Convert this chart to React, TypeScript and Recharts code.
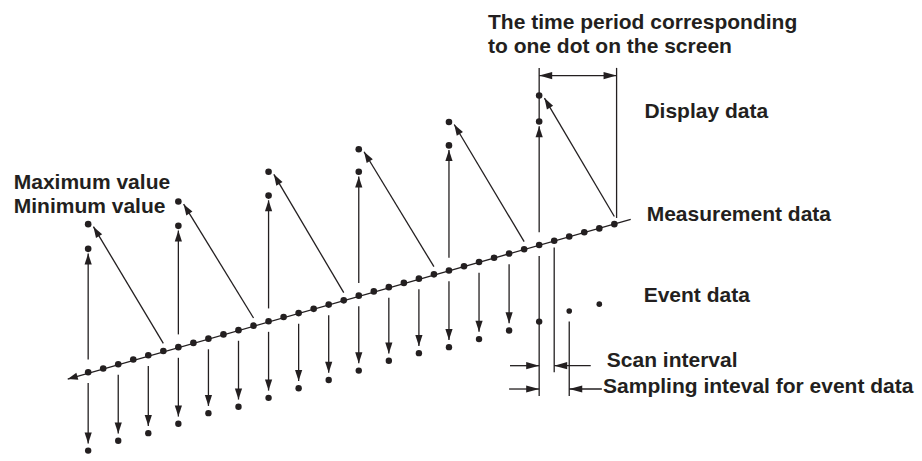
import React from "react";
import { ScatterChart, Scatter, XAxis, YAxis, ReferenceLine } from "recharts";

// x = sample number, y = signal level (same units for every panel)
const MEASUREMENT = [
  -0.1, 0.8, 1.8, 2.9, 3.9, 4.9, 5.8, 6.8, 7.8, 8.8, 9.8, 10.85, 11.9, 12.9,
  13.8, 14.8, 15.8, 16.8, 17.9, 18.9, 19.9, 20.9, 21.9, 22.9, 23.8, 24.8,
  25.8, 26.8, 27.8, 28.8, 29.8, 30.8, 31.8, 32.8, 33.7, 34.7,
];

// one display dot = 6 scans; min is the first sample, max the last one
const GROUP_START = [0, 6, 12, 18, 24, 30];
const DISPLAY_MIN = [28.9, 34.3, 41.4, 47.0, 53.2, 58.8];
const DISPLAY_MAX = [34.7, 40.0, 47.0, 52.3, 58.7, 64.9];

// event data is sampled every second scan
const EVENT_INDEX = [0, 2, 4, 6, 8, 10, 12, 14, 16, 18, 20, 22, 24, 26, 28, 30, 32, 34];
const EVENT = [
  -18.5, -16.2, -14.4, -12.2, -9.7, -8.2, -6.1, -3.85, -1.9, 0.3, 2.6, 4.4,
  5.8, 7.7, 9.7, 11.8, 14.3, 15.9,
];

const LABELS = [
  { x: 26.6, y: 80.5, text: "The time period corresponding" },
  { x: 26.6, y: 74.8, text: "to one dot on the screen" },
  { x: 37.0, y: 59.6, text: "Display data" },
  { x: -4.95, y: 42.9, text: "Maximum value" },
  { x: -4.95, y: 37.25, text: "Minimum value" },
  { x: 37.15, y: 35.4, text: "Measurement data" },
  { x: 36.95, y: 16.4, text: "Event data" },
  { x: 34.5, y: 1.1, text: "Scan interval" },
  { x: 34.25, y: -4.95, text: "Sampling inteval for event data" },
];

const INK = "#231f20";
const TOP = 71.4;
const DIM_BOTTOM = -5.65;

type Seg = { a: [number, number]; b: [number, number]; s?: boolean; e?: boolean; L?: number };

const segments: Seg[] = [];
// measurement time axis
segments.push({ a: [36.09, 35.84], b: [-1.36, -1.68], e: true, L: 10 });
GROUP_START.forEach((g, i) => {
  segments.push({ a: [g, MEASUREMENT[g] + 3], b: [g, DISPLAY_MIN[i] - 1.1], e: true });
  segments.push({
    a: [g + 5, MEASUREMENT[g + 5] + 1.8],
    b: [g + 0.35, DISPLAY_MAX[i] - 0.6],
    e: true,
  });
});
segments.push({ a: [30, DISPLAY_MIN[5]], b: [30, TOP] });
EVENT_INDEX.forEach((k, j) => {
  if (k < 30) segments.push({ a: [k, MEASUREMENT[k] - 2.5], b: [k, EVENT[j] + 1.7], e: true });
});
segments.push({ a: [30, MEASUREMENT[30] - 2.6], b: [30, DIM_BOTTOM] });
segments.push({ a: [31, MEASUREMENT[31] - 1.6], b: [31, -0.1] });
segments.push({ a: [32, EVENT[16] - 2.5], b: [32, DIM_BOTTOM] });
segments.push({ a: [35.15, TOP], b: [35.15, 36.15] });
segments.push({ a: [30, 69.6], b: [35.15, 69.6], s: true, e: true, L: 13 });
segments.push({ a: [28.06, 1.45], b: [30, 1.45], e: true, L: 13 });
segments.push({ a: [33.43, 1.45], b: [31, 1.45], e: true, L: 13 });
segments.push({ a: [28.0, -4.03], b: [30, -4.03], e: true, L: 13 });
segments.push({ a: [34.17, -4.03], b: [32, -4.03], e: true, L: 13 });

function head(tx: number, ty: number, fx: number, fy: number, L: number) {
  const dx = tx - fx;
  const dy = ty - fy;
  const len = Math.hypot(dx, dy) || 1;
  const ux = dx / len;
  const uy = dy / len;
  const W = 3.6;
  const bx = tx - ux * L;
  const by = ty - uy * L;
  return `${tx},${ty} ${bx - uy * W},${by + ux * W} ${bx + uy * W},${by - ux * W}`;
}

function arrowShape(seg: Seg) {
  const L = seg.L ?? 11;
  return (p: any) => {
    const { x1, y1, x2, y2 } = p;
    return (
      <g>
        <line x1={x1} y1={y1} x2={x2} y2={y2} stroke={INK} strokeWidth={1.3} />
        {seg.e && <polygon points={head(x2, y2, x1, y1, L)} fill={INK} />}
        {seg.s && <polygon points={head(x1, y1, x2, y2, L)} fill={INK} />}
      </g>
    );
  };
}

const measurementData = MEASUREMENT.map((y, x) => ({ x, y }));
const displayData = GROUP_START.flatMap((g, i) => [
  { x: g, y: DISPLAY_MIN[i] },
  { x: g, y: DISPLAY_MAX[i] },
]);
const eventData = EVENT_INDEX.map((x, j) => ({ x, y: EVENT[j], r: x > 30 ? 2.8 : 3.2 }));

const dot = (r: number) => (p: any) => <circle cx={p.cx} cy={p.cy} r={p.payload?.r ?? r} fill={INK} />;

const label = (p: any) => (
  <text
    x={p.cx}
    y={p.cy}
    fill={INK}
    fontSize={21}
    fontWeight={700}
    fontFamily='"Liberation Sans", Arial, Helvetica, sans-serif'
  >
    {p.payload.text}
  </text>
);

export default function App() {
  return (
    <div style={{ position: "absolute", left: 0, top: 0, width: 922, height: 461, background: "#fff" }}>
      <ScatterChart width={922} height={461} margin={{ top: 10, right: 7, bottom: 4, left: 13 }}>
        <XAxis type="number" dataKey="x" domain={[-5, 55]} hide />
        <YAxis type="number" dataKey="y" domain={[-20, 85]} hide />
        {segments.map((seg, i) => (
          <ReferenceLine
            key={i}
            segment={[
              { x: seg.a[0], y: seg.a[1] },
              { x: seg.b[0], y: seg.b[1] },
            ]}
            ifOverflow="visible"
            stroke={INK}
            shape={arrowShape(seg)}
          />
        ))}
        <Scatter data={measurementData} shape={dot(3.3)} isAnimationActive={false} />
        <Scatter data={displayData} shape={dot(3.3)} isAnimationActive={false} />
        <Scatter data={eventData} shape={dot(3.2)} isAnimationActive={false} />
        <Scatter data={LABELS} shape={label} isAnimationActive={false} />
      </ScatterChart>
    </div>
  );
}
